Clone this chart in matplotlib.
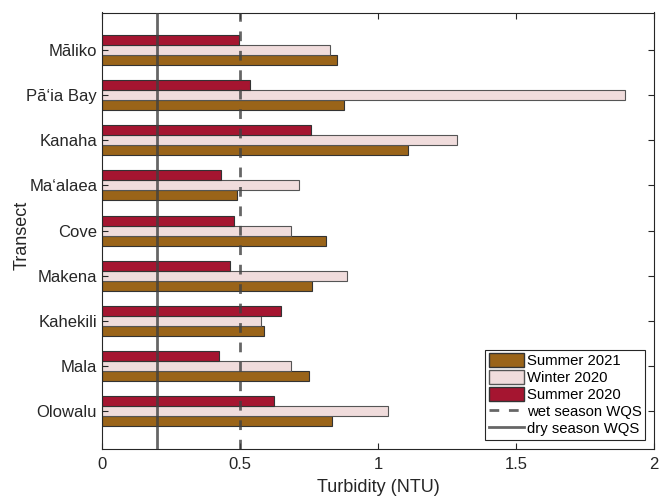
import matplotlib.pyplot as plt
from matplotlib.patches import Patch
from matplotlib.lines import Line2D
import numpy as np

plt.rcParams['font.family'] = ['Liberation Sans', 'DejaVu Sans']

transects = ["Māliko", "Pā‘ia Bay", "Kanaha", "Ma‘alaea", "Cove",
             "Makena", "Kahekili", "Mala", "Olowalu"]
summer_2021 = [0.853, 0.875, 1.110, 0.488, 0.813, 0.760, 0.586, 0.749, 0.833]
winter_2020 = [0.827, 1.894, 1.288, 0.714, 0.686, 0.886, 0.577, 0.686, 1.035]
summer_2020 = [0.497, 0.537, 0.757, 0.430, 0.480, 0.463, 0.647, 0.423, 0.624]
wet_wqs = 0.5
dry_wqs = 0.2

c_s21 = "#9a6419"
c_w20 = "#f0dcdc"
c_s20 = "#a51530"
c_line = "#404040"

fig = plt.figure(figsize=(6.67, 4.97), dpi=100)
ax = fig.add_axes([102 / 667, 1 - 448.7 / 497, 552 / 667, 436.2 / 497])

n = len(transects)
pos = np.arange(n, 0, -1)  # Māliko at top
h = 0.221
ax.barh(pos - h, summer_2021, height=h, color=c_s21, edgecolor="#333333", linewidth=0.8)
ax.barh(pos, winter_2020, height=h, color=c_w20, edgecolor="#555555", linewidth=0.8)
ax.barh(pos + h, summer_2020, height=h, color=c_s20, edgecolor="#333333", linewidth=0.8)

ax.axvline(wet_wqs, color=c_line, alpha=0.8, lw=2, ls=(0, (3.5, 3.5)), zorder=3)
ax.axvline(dry_wqs, color=c_line, alpha=0.8, lw=2, zorder=3)

ax.set_xlim(0, 2)
ax.set_ylim(0.175, 9.825)
ax.set_xticks([0, 0.5, 1, 1.5, 2])
ax.set_xticklabels(["0", "0.5", "1", "1.5", "2"])
ax.set_yticks(pos)
ax.set_yticklabels(transects)
ax.tick_params(direction="in", top=True, right=True, labelsize=12, colors="#262626", length=4)
ax.tick_params(axis="x", pad=6)
for s in ax.spines.values():
    s.set_color("#262626")
    s.set_linewidth(0.8)
ax.set_xlabel("Turbidity (NTU)", fontsize=13, color="#262626", labelpad=5)
ax.set_ylabel("Transect", fontsize=13, color="#262626")
ax.yaxis.set_label_coords(-0.129, 0.49)

handles = [
    Patch(facecolor=c_s21, edgecolor="#333333", label="Summer 2021"),
    Patch(facecolor=c_w20, edgecolor="#555555", label="Winter 2020"),
    Patch(facecolor=c_s20, edgecolor="#333333", label="Summer 2020"),
    Line2D([], [], color=c_line, alpha=0.8, lw=2, ls=(0, (3.5, 3.5)), label="wet season WQS"),
    Line2D([], [], color=c_line, alpha=0.8, lw=2, label="dry season WQS"),
]
leg = ax.legend(handles=handles, loc="lower right", fontsize=10.7, frameon=True,
                fancybox=False, edgecolor="#262626", framealpha=1,
                borderaxespad=0.6, handlelength=2.4, handleheight=1.0,
                handletextpad=0.15, labelspacing=0.15, borderpad=0.25)
leg.get_frame().set_linewidth(0.8)

fig.savefig("out.png", dpi=100)
